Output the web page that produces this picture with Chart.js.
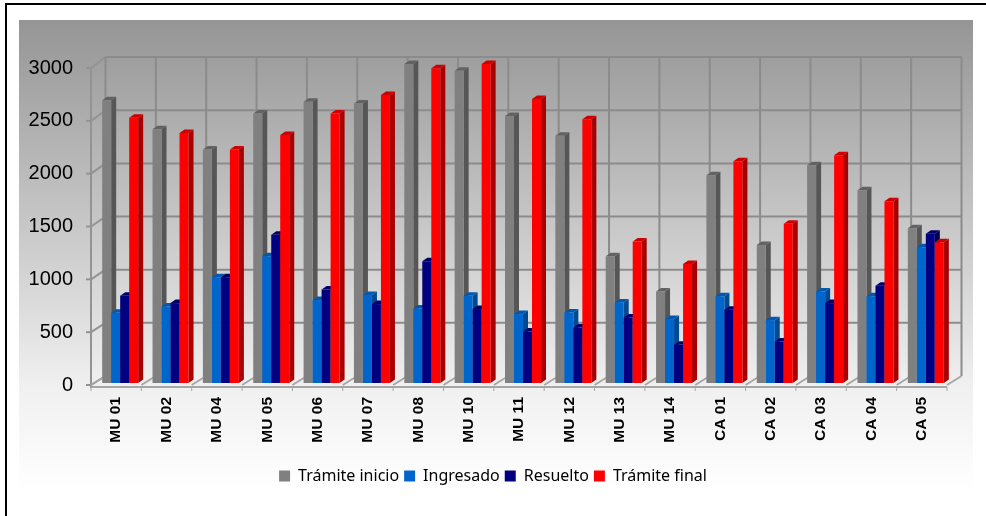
<!DOCTYPE html>
<html>
<head>
<meta charset="utf-8">
<style>
  html, body { margin: 0; padding: 0; background: #fff; }
  #wrap { width: 986px; height: 516px; }
</style>
<script src="https://cdn.jsdelivr.net/npm/chart.js@4"></script>
</head>
<body>
<div id="wrap"><canvas id="myChart" width="986" height="516"></canvas></div>
<script>
const categories = ['MU 01', 'MU 02', 'MU 04', 'MU 05', 'MU 06', 'MU 07', 'MU 08', 'MU 10', 'MU 11', 'MU 12', 'MU 13', 'MU 14', 'CA 01', 'CA 02', 'CA 03', 'CA 04', 'CA 05'];
const tramiteInicio = [2677, 2402, 2209, 2551, 2662, 2646, 3019, 2956, 2526, 2339, 1200, 867, 1965, 1307, 2060, 1823, 1465];
const ingresado = [665, 725, 1000, 1200, 785, 832, 706, 826, 652, 668, 763, 605, 820, 595, 867, 820, 1285];
const resuelto = [826, 756, 1000, 1402, 886, 747, 1152, 700, 487, 525, 620, 361, 693, 392, 756, 921, 1412];
const tramiteFinal = [2510, 2367, 2209, 2348, 2551, 2725, 2978, 3019, 2687, 2497, 1339, 1127, 2098, 1507, 2155, 1719, 1332];

// front, side and top colour of each series
const shades = [
  ['#808080', '#565656', '#626262'],
  ['#0066cc', '#004a94', '#0058b0'],
  ['#000080', '#00004f', '#000068'],
  ['#ff0000', '#a80000', '#cc0000']
];

const GRID = '#8b8b8b';
const backDx = 14.5;
function backY(y) { return y - 9 - (384 - y) * 0.006; }

function line(ctx, x1, y1, x2, y2) {
  ctx.beginPath();
  ctx.moveTo(x1, y1);
  ctx.lineTo(x2, y2);
  ctx.stroke();
}

function face(ctx, color, pts) {
  ctx.fillStyle = color;
  ctx.beginPath();
  pts.forEach((p, i) => i ? ctx.lineTo(p[0], p[1]) : ctx.moveTo(p[0], p[1]));
  ctx.closePath();
  ctx.fill();
}

const panel3d = {
  id: 'panel3d',
  beforeDraw(chart) {
    const ctx = chart.ctx;
    ctx.save();
    ctx.fillStyle = '#fff';
    ctx.fillRect(0, 0, 986, 516);
    const g = ctx.createLinearGradient(0, 20, 0, 490);
    g.addColorStop(0, '#959595');
    g.addColorStop(0.51, '#d0d0d0');
    g.addColorStop(0.78, '#f0f0f0');
    g.addColorStop(1, '#ffffff');
    ctx.fillStyle = g;
    ctx.fillRect(19, 20, 954, 470);
    ctx.fillStyle = '#000';
    ctx.fillRect(5, 3, 981, 2);
    ctx.fillRect(5, 3, 2, 513);
    ctx.restore();
  },
  afterLayout(chart) {
    // the legend is centred on the whole page, not on the plot
    chart.legend.left = 0;
    chart.legend.right = 986;
  },
  beforeDatasetsDraw(chart) {
    const ctx = chart.ctx;
    const xs = chart.scales.x, ys = chart.scales.y;
    const area = chart.chartArea;
    const step = xs.width / categories.length;
    ctx.save();
    ctx.strokeStyle = GRID;
    ctx.lineWidth = 2;
    // back and side wall lines for each value tick
    ys.ticks.forEach((t, i) => {
      const y = ys.getPixelForTick(i);
      if (t.value > 0) {
        line(ctx, area.left + backDx, backY(y), area.right + backDx, backY(y));
      }
      ctx.strokeStyle = '#939393';
      line(ctx, area.left, y, area.left + backDx, backY(y));
      line(ctx, area.left - 5, y, area.left, y);
      ctx.strokeStyle = GRID;
    });
    // back wall verticals
    for (let i = 0; i <= categories.length; i++) {
      const x = xs.getPixelForTick(0) - step / 2 + i * step + backDx;
      line(ctx, x, backY(area.top), x, backY(area.bottom));
    }
    // left wall
    ctx.strokeStyle = '#939393';
    line(ctx, area.left, area.top, area.left, area.bottom + 3);
    // floor
    ctx.strokeStyle = '#a6a6a6';
    for (let i = 0; i <= categories.length; i++) {
      const x = xs.getPixelForTick(0) - step / 2 + i * step;
      line(ctx, x, area.bottom, x + backDx, backY(area.bottom));
      ctx.lineWidth = 1;
      line(ctx, x, area.bottom + 2, x, area.bottom + 6);
      ctx.lineWidth = 2;
    }
    line(ctx, area.left, area.bottom + 2, area.right, area.bottom + 2);
    ctx.restore();
  },
  // Chart.js paints the last dataset first; the depth faces need the opposite,
  // so the normal pass is skipped and the bars are painted left to right below
  beforeDatasetDraw() {
    return false;
  },
  afterDatasetsDraw(chart) {
    const ctx = chart.ctx;
    const dx = 5, dy = -3.5;
    ctx.save();
    // the bars stand a little behind the front plane
    ctx.translate(4, -2);
    names.forEach((n, i) => {
      const c = shades[i];
      chart.getDatasetMeta(i).data.forEach(bar => {
        const p = bar.getProps(['x', 'y', 'base', 'width'], true);
        const l = p.x - p.width / 2, r = p.x + p.width / 2;
        face(ctx, c[1], [[r, p.y], [r + dx, p.y + dy], [r + dx, p.base + dy], [r, p.base]]);
        face(ctx, c[2], [[l, p.y], [l + dx, p.y + dy], [r + dx, p.y + dy], [r, p.y]]);
        bar.draw(ctx);
      });
    });
    ctx.restore();
  }
};

const names = ['Trámite inicio', 'Ingresado', 'Resuelto', 'Trámite final'];
const values = [tramiteInicio, ingresado, resuelto, tramiteFinal];

const ctx = document.getElementById('myChart').getContext('2d');
const myChart = new Chart(ctx, {
  type: 'bar',
  plugins: [panel3d],
  data: {
    labels: categories,
    datasets: names.map((n, i) => ({
      label: n,
      data: values[i],
      backgroundColor: shades[i][0],
      borderWidth: 0,
      categoryPercentage: 0.715,
      barPercentage: 1
    }))
  },
  options: {
    responsive: false,
    animation: false,
    layout: { padding: { left: 0, right: 39, top: 68, bottom: 22 } },
    scales: {
      x: {
        grid: { display: false },
        border: { display: false },
        ticks: {
          color: '#000',
          font: { family: 'Liberation Sans', size: 15.5, weight: 'bold' },
          maxRotation: 90,
          minRotation: 90,
          padding: 4,
          autoSkip: false
        },
        afterFit(s) { s.height = 78; }
      },
      y: {
        min: 0,
        max: 3000,
        grid: { display: false },
        border: { display: false },
        ticks: {
          stepSize: 500,
          color: '#000',
          font: { family: 'Liberation Sans', size: 20 },
          padding: 10,
          callback: v => String(v)
        },
        afterFit(s) { s.width = 91; }
      }
    },
    plugins: {
      tooltip: { enabled: false },
      legend: {
        position: 'bottom',
        labels: {
          boxWidth: 11,
          boxHeight: 11,
          padding: 5,
          color: '#000',
          font: { family: 'Noto Sans', size: 16 }
        }
      }
    }
  }
});
</script>
</body>
</html>
